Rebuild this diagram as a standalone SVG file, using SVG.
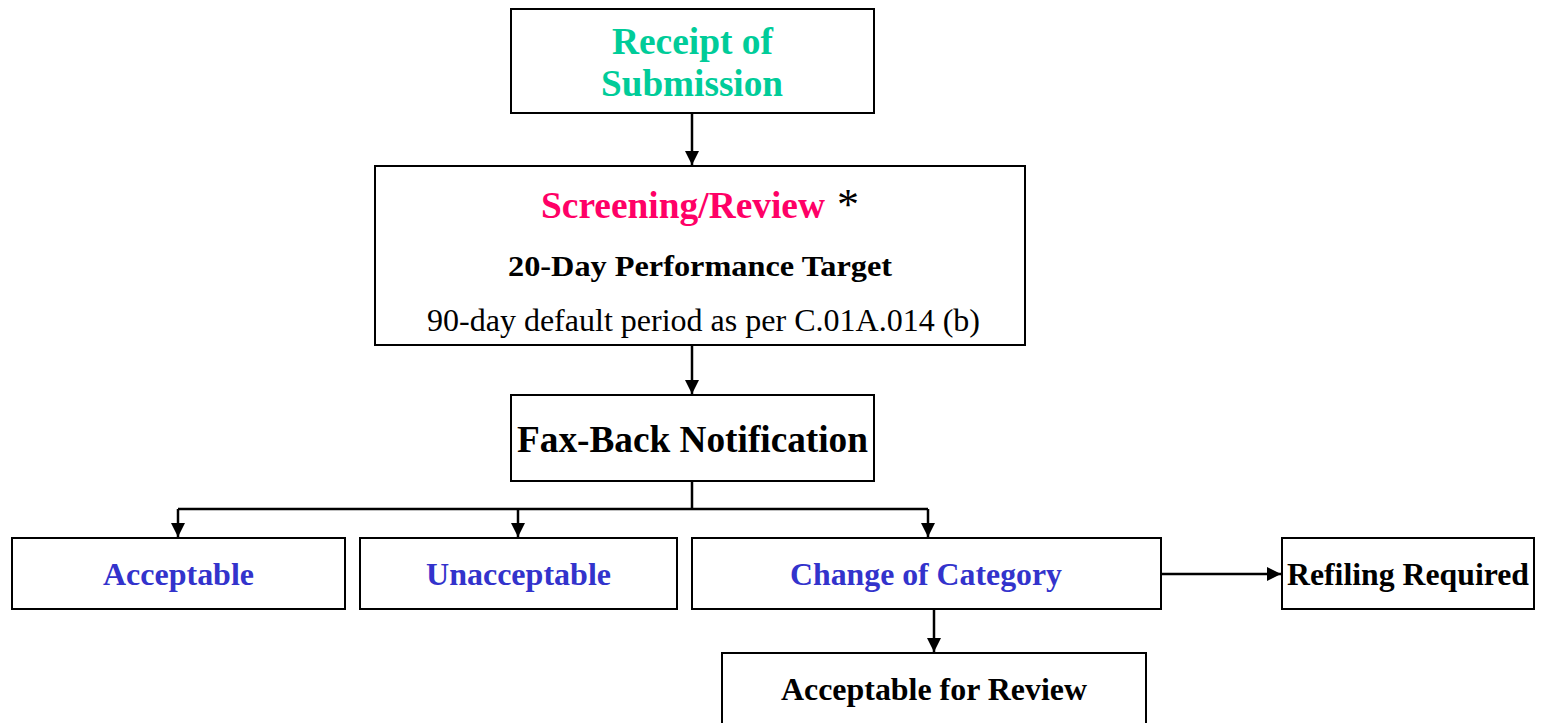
<svg xmlns="http://www.w3.org/2000/svg" width="1541" height="723" viewBox="0 0 1541 723">
<defs>
<marker id="ah" markerWidth="14" markerHeight="14" refX="14" refY="7" orient="auto" markerUnits="userSpaceOnUse" viewBox="0 0 14 14">
<path d="M0,0 L14,7 L0,14 z" fill="#000"/>
</marker>
<style>
.box{fill:#fff;stroke:#000;stroke-width:2}
.t{font-family:"Liberation Serif","Times New Roman",serif;font-weight:bold;text-anchor:middle}
.g{fill:#00cc99;font-size:37px}
.p{fill:#ff0066;font-size:37px}
.b{fill:#3333cc;font-size:31px}
.k{fill:#000}
.c{stroke:#000;stroke-width:2.5;fill:none}
</style>
</defs>
<rect width="1541" height="723" fill="#fff"/>
<g id="connectors">
<path class="c" d="M692,108 V165" marker-end="url(#ah)"/>
<path class="c" d="M692,338 V394" marker-end="url(#ah)"/>
<path class="c" d="M692,481 V509 M178,509 H928"/>
<path class="c" d="M178,509 V537" marker-end="url(#ah)"/>
<path class="c" d="M518,509 V537" marker-end="url(#ah)"/>
<path class="c" d="M928,509 V537" marker-end="url(#ah)"/>
<path class="c" d="M1161,574 H1281" marker-end="url(#ah)"/>
<path class="c" d="M934,609 V652" marker-end="url(#ah)"/>
</g>
<g id="receipt">
<rect class="box" x="511" y="9" width="363" height="104"/>
<text class="t g" x="692.5" y="54" textLength="161" lengthAdjust="spacingAndGlyphs">Receipt of</text>
<text class="t g" x="692" y="96" textLength="182" lengthAdjust="spacingAndGlyphs">Submission</text>
</g>
<g id="screening">
<rect class="box" x="375" y="166" width="650" height="179"/>
<text class="t p" x="683" y="218" textLength="284" lengthAdjust="spacingAndGlyphs">Screening/Review</text>
<text class="t k" x="848" y="219" style="font-size:44px;font-weight:normal">*</text>
<text class="t k" x="700" y="276" style="font-size:30px" textLength="384" lengthAdjust="spacingAndGlyphs">20-Day Performance Target</text>
<text class="t k" x="703.5" y="331" style="font-size:31px;font-weight:normal" textLength="553" lengthAdjust="spacingAndGlyphs">90-day default period as per C.01A.014 (b)</text>
</g>
<g id="faxback">
<rect class="box" x="511" y="395" width="363" height="86"/>
<text class="t k" x="692.5" y="452" style="font-size:38px" textLength="351" lengthAdjust="spacingAndGlyphs">Fax-Back Notification</text>
</g>
<g id="acceptable">
<rect class="box" x="12" y="538" width="333" height="71"/>
<text class="t b" x="178.5" y="585" textLength="151" lengthAdjust="spacingAndGlyphs">Acceptable</text>
</g>
<g id="unacceptable">
<rect class="box" x="360" y="538" width="317" height="71"/>
<text class="t b" x="518.5" y="585" textLength="185" lengthAdjust="spacingAndGlyphs">Unacceptable</text>
</g>
<g id="change">
<rect class="box" x="692" y="538" width="469" height="71"/>
<text class="t b" x="926" y="585" textLength="272" lengthAdjust="spacingAndGlyphs">Change of Category</text>
</g>
<g id="refiling">
<rect class="box" x="1282" y="538" width="252" height="71"/>
<text class="t k" x="1408" y="585" style="font-size:31px" textLength="242" lengthAdjust="spacingAndGlyphs">Refiling Required</text>
</g>
<g id="acceptable-review">
<rect class="box" x="722" y="653" width="424" height="80"/>
<text class="t k" x="934" y="700" style="font-size:31px" textLength="306" lengthAdjust="spacingAndGlyphs">Acceptable for Review</text>
</g>
</svg>
